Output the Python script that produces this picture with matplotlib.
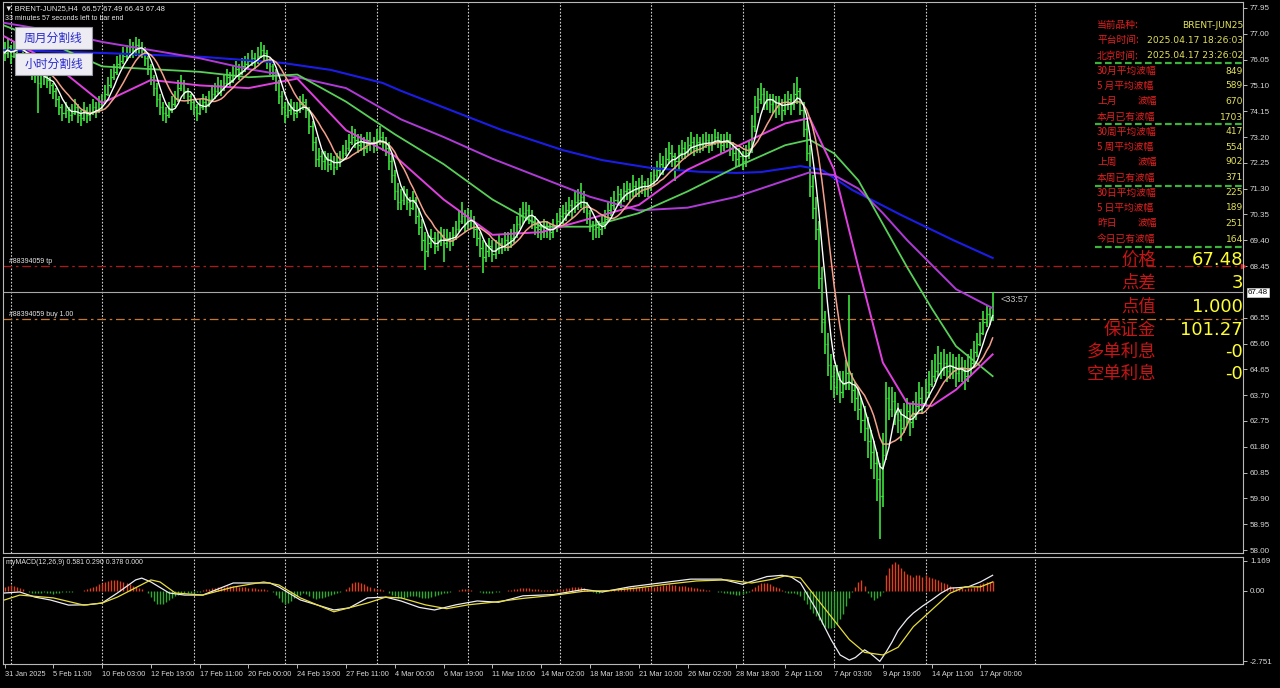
import matplotlib
matplotlib.use('Agg')
import matplotlib.pyplot as plt
import matplotlib.transforms as mtrans
from matplotlib.patches import Rectangle
import numpy as np
import pandas as pd

W, H = 1280, 688
CJK = ['Noto Sans CJK SC', 'DejaVu Sans']
plt.rcParams['font.family'] = ['Liberation Sans', 'DejaVu Sans']

# BRENT-JUN25 H4 bars, 31 Jan .. 17 Apr 2025
first_open = 76.4
close = [
    76.3, 76.5, 76.2, 76.4, 76.6, 76.9, 76.0, 75.8, 75.9, 75.6,
    75.5, 75.2, 75.5, 75.4, 75.3, 75.1, 74.9, 74.6, 74.3, 74.1,
    74.2, 74.0, 74.1, 74.3, 74.0, 73.9, 74.2, 74.0, 74.1, 74.3,
    74.2, 74.4, 74.5, 74.8, 75.1, 75.4, 75.6, 75.9, 76.0, 76.2,
    76.3, 76.5, 76.4, 76.6, 76.5, 76.4, 76.1, 75.8, 75.4, 75.0,
    74.6, 74.3, 74.1, 74.0, 74.2, 74.4, 74.6, 75.0, 75.2, 74.9,
    74.7, 74.5, 74.3, 74.1, 74.3, 74.5, 74.4, 74.6, 74.8, 74.9,
    75.1, 75.0, 75.2, 75.4, 75.3, 75.5, 75.7, 75.6, 75.8, 75.9,
    76.0, 76.1, 76.0, 76.2, 76.4, 76.3, 76.0, 75.8, 75.6, 75.2,
    74.7, 74.3, 74.0, 74.2, 74.3, 74.1, 74.2, 74.4, 74.5, 74.2,
    73.6, 73.0, 72.4, 72.5, 72.3, 72.4, 72.2, 72.3, 72.1, 72.3,
    72.4, 72.6, 72.8, 73.0, 73.2, 73.1, 72.9, 73.0, 72.8, 73.1,
    73.0, 72.9, 73.1, 73.2, 73.0, 72.8, 72.3, 71.8, 71.2, 70.8,
    70.9, 71.1, 70.8, 70.6, 70.9, 70.3, 69.9, 69.4, 69.0, 69.3,
    69.5, 69.2, 69.4, 69.6, 69.3, 69.5, 69.4, 69.6, 69.8, 70.1,
    70.3, 70.0, 70.2, 70.1, 69.8, 69.5, 69.1, 68.8, 69.0, 69.2,
    68.9, 69.1, 69.3, 69.2, 69.4, 69.3, 69.5, 69.7, 70.0, 70.3,
    70.4, 70.5, 70.3, 70.1, 69.9, 69.8, 69.7, 69.9, 69.8, 69.7,
    69.9, 70.1, 70.3, 70.4, 70.5, 70.7, 70.6, 70.8, 70.9, 71.0,
    70.7, 70.4, 70.0, 69.8, 69.9, 69.8, 70.0, 70.2, 70.5, 70.7,
    70.9, 71.1, 71.0, 71.2, 71.3, 71.2, 71.4, 71.3, 71.4, 71.5,
    71.3, 71.4, 71.6, 71.8, 72.0, 72.2, 72.1, 72.4, 72.6, 72.5,
    72.3, 72.6, 72.8, 72.7, 72.9, 73.0, 72.8, 73.0, 72.9, 73.0,
    73.1, 72.9, 73.0, 73.2, 73.1, 72.9, 73.0, 73.1, 72.8, 72.6,
    72.4, 72.5, 72.3, 72.6, 72.8, 73.6, 74.3, 74.6, 74.8, 74.5,
    74.6, 74.4, 74.5, 74.3, 74.4, 74.2, 74.5, 74.6, 74.4, 74.8,
    74.9, 74.2, 73.5, 72.6, 71.4, 70.6, 69.8, 68.0, 66.4, 65.6,
    64.8, 64.4, 64.0, 64.3, 63.8, 64.1, 64.5, 64.2, 63.9, 63.6,
    63.2, 62.8, 62.5, 62.0, 61.6, 61.2, 60.6, 60.0, 61.5, 63.6,
    63.2, 63.5, 63.0, 62.8, 62.5, 62.9, 63.1, 62.7, 63.0, 63.3,
    63.6, 63.4, 63.8, 64.1, 64.4, 64.6, 64.9, 64.7, 64.9, 64.6,
    64.8, 64.7, 64.5, 64.7, 64.6, 64.4, 64.7, 64.9, 65.3, 65.6,
    66.0, 66.4, 66.7, 66.57, 67.48,
]
high = [
    76.7, 76.8, 76.6, 76.7, 76.9, 77.1, 77.0, 76.2, 76.1, 76.0,
    75.8, 75.6, 75.7, 75.7, 75.6, 75.4, 75.2, 75.0, 74.7, 74.4,
    74.5, 74.3, 74.4, 74.6, 74.4, 74.2, 74.5, 74.3, 74.4, 74.6,
    74.5, 74.7, 74.8, 75.1, 75.4, 75.7, 75.9, 76.2, 76.3, 76.5,
    76.6, 76.8, 76.7, 76.9, 76.8, 76.7, 76.5, 76.2, 75.9, 75.5,
    75.2, 74.8, 74.5, 74.3, 74.5, 74.7, 74.9, 75.3, 75.5, 75.3,
    75.0, 74.8, 74.6, 74.4, 74.6, 74.8, 74.7, 74.9, 75.1, 75.2,
    75.4, 75.3, 75.5, 75.7, 75.6, 75.8, 76.0, 75.9, 76.1, 76.2,
    76.3, 76.4, 76.3, 76.5, 76.7, 76.6, 76.4, 76.1, 75.9, 75.7,
    75.3, 74.9, 74.5, 74.5, 74.6, 74.5, 74.5, 74.7, 74.8, 74.6,
    74.3, 73.8, 73.2, 72.8, 72.7, 72.7, 72.6, 72.6, 72.5, 72.6,
    72.7, 72.9, 73.1, 73.3, 73.6, 73.5, 73.3, 73.3, 73.2, 73.4,
    73.4, 73.2, 73.5, 73.6, 73.4, 73.2, 73.0, 72.6, 72.0, 71.5,
    71.3, 71.4, 71.3, 71.0, 71.2, 71.0, 70.6, 70.2, 69.7, 69.6,
    69.8, 69.7, 69.7, 69.9, 69.8, 69.8, 69.7, 69.9, 70.1, 70.5,
    70.8, 70.5, 70.6, 70.5, 70.3, 70.0, 69.7, 69.4, 69.3, 69.5,
    69.4, 69.4, 69.6, 69.5, 69.7, 69.7, 69.8, 70.0, 70.3, 70.6,
    70.8, 70.8, 70.7, 70.5, 70.3, 70.1, 70.0, 70.2, 70.1, 70.0,
    70.2, 70.4, 70.6, 70.7, 70.8, 71.0, 70.9, 71.2, 71.3, 71.5,
    71.2, 70.8, 70.5, 70.1, 70.2, 70.1, 70.3, 70.5, 70.8, 71.0,
    71.2, 71.4, 71.3, 71.5, 71.6, 71.5, 71.8, 71.6, 71.7, 71.8,
    71.6, 71.7, 71.9, 72.1, 72.3, 72.6, 72.5, 72.8, 73.0, 72.9,
    72.6, 72.9, 73.1, 73.0, 73.2, 73.4, 73.2, 73.3, 73.2, 73.3,
    73.4, 73.3, 73.3, 73.5, 73.4, 73.3, 73.3, 73.4, 73.3, 73.0,
    72.8, 72.8, 72.7, 72.9, 73.1, 74.0, 74.7, 75.0, 75.2, 75.0,
    74.9, 74.8, 74.8, 74.7, 74.7, 74.6, 74.8, 74.9, 74.8, 75.2,
    75.4, 75.0, 74.5, 73.8, 72.9, 71.8, 71.0, 70.1, 68.4, 66.8,
    66.0, 65.2, 64.8, 64.8, 64.6, 64.6, 65.0, 67.4, 64.5, 64.2,
    64.0, 63.6, 63.3, 62.9, 62.4, 62.0, 61.6, 61.2, 62.3, 64.2,
    64.0, 64.0, 63.8, 63.4, 63.2, 63.4, 63.6, 63.4, 63.5, 63.8,
    64.2, 64.0, 64.3, 64.6, 65.0, 65.2, 65.5, 65.3, 65.4, 65.2,
    65.3, 65.2, 65.1, 65.2, 65.1, 65.0, 65.2, 65.4, 65.7, 66.0,
    66.4, 66.8, 67.0, 66.9, 67.49,
]
low = [
    76.0, 76.1, 75.9, 76.1, 76.3, 76.4, 75.8, 75.5, 75.6, 75.3,
    75.2, 74.1, 75.0, 75.1, 75.0, 74.8, 74.6, 74.3, 74.0, 73.8,
    73.9, 73.7, 73.8, 74.0, 73.7, 73.6, 73.8, 73.7, 73.8, 74.0,
    73.9, 74.1, 74.2, 74.4, 74.7, 75.0, 75.3, 75.5, 75.7, 75.9,
    76.0, 76.1, 76.1, 76.2, 76.2, 76.1, 75.8, 75.5, 75.1, 74.7,
    74.3, 74.0, 73.8, 73.7, 73.9, 74.1, 74.3, 74.5, 74.9, 74.6,
    74.4, 74.2, 74.0, 73.8, 74.0, 74.2, 74.1, 74.3, 74.5, 74.6,
    74.8, 74.7, 74.9, 75.1, 75.0, 75.2, 75.4, 75.3, 75.5, 75.6,
    75.7, 75.8, 75.7, 75.9, 76.1, 76.0, 75.7, 75.5, 75.3, 74.9,
    74.4, 74.0, 73.7, 73.9, 74.0, 73.8, 73.9, 74.1, 74.2, 73.9,
    73.3, 72.7, 72.1, 72.1, 72.0, 72.0, 71.9, 72.0, 71.8, 72.0,
    72.1, 72.3, 72.5, 72.7, 72.9, 72.8, 72.6, 72.7, 72.5, 72.6,
    72.7, 72.6, 72.7, 72.9, 72.7, 72.5, 72.0, 71.5, 70.9, 70.5,
    70.5, 70.7, 70.5, 70.3, 70.5, 70.0, 69.6, 69.0, 68.3, 68.8,
    69.1, 68.9, 69.0, 69.2, 68.6, 69.1, 69.0, 69.2, 69.4, 69.7,
    70.0, 69.7, 69.8, 69.8, 69.5, 69.2, 68.8, 68.2, 68.6, 68.8,
    68.6, 68.7, 68.9, 68.9, 69.0, 69.0, 69.1, 69.3, 69.5, 69.8,
    70.0, 70.1, 70.0, 69.8, 69.6, 69.5, 69.4, 69.5, 69.5, 69.4,
    69.5, 69.7, 69.9, 70.0, 70.1, 70.3, 70.2, 70.4, 70.5, 70.6,
    70.4, 70.0, 69.7, 69.4, 69.5, 69.5, 69.6, 69.8, 70.1, 70.3,
    70.5, 70.7, 70.6, 70.8, 70.9, 70.8, 71.0, 71.0, 71.0, 71.1,
    71.0, 71.0, 71.2, 71.4, 71.6, 71.8, 71.8, 72.0, 72.2, 72.1,
    71.6, 72.0, 72.4, 72.4, 72.5, 72.6, 72.5, 72.6, 72.6, 72.7,
    72.8, 72.6, 72.7, 72.9, 72.8, 72.6, 72.7, 72.8, 72.5, 72.3,
    72.1, 72.1, 72.0, 72.1, 72.4, 72.6, 73.4, 74.1, 74.4, 74.2,
    74.2, 74.1, 74.1, 73.9, 74.0, 73.8, 74.0, 74.2, 74.0, 74.2,
    74.4, 74.0, 73.2, 72.3, 71.0, 70.2, 69.4, 67.6, 66.0, 65.2,
    64.4, 63.9, 63.6, 63.7, 63.4, 63.6, 63.9, 63.9, 63.4, 63.1,
    62.8, 62.3, 62.0, 61.4, 61.0, 60.6, 59.8, 58.4, 59.6, 61.3,
    62.8, 62.9, 62.6, 62.3, 62.0, 62.3, 62.6, 62.2, 62.5, 62.8,
    63.1, 63.0, 63.3, 63.6, 64.0, 64.2, 64.4, 64.3, 64.4, 64.2,
    64.3, 64.3, 64.0, 64.2, 64.2, 63.9, 64.2, 64.4, 64.7, 65.1,
    65.5, 65.9, 66.2, 66.3, 66.43,
]

# slower moving averages at selected bars
ma25_bar = [0, 16, 32, 48, 64, 80, 96, 112, 128, 144, 160, 176, 192, 208, 224, 240, 256, 264, 272, 280, 288, 296, 304, 312, 324]
ma25_val = [76.9, 75.9, 74.45, 75.3, 75.1, 75.0, 75.35, 73.45, 72.5, 70.9, 69.6, 69.7, 70.2, 70.7, 72.0, 72.85, 73.7, 73.9, 72.0, 68.4, 64.9, 63.4, 63.3, 63.9, 65.2]
ma50_bar = [0, 16, 32, 48, 64, 80, 96, 112, 128, 144, 160, 176, 192, 208, 224, 240, 256, 264, 272, 280, 288, 296, 304, 312, 324]
ma50_val = [77.3, 76.6, 75.8, 75.7, 75.6, 75.4, 75.5, 74.5, 73.3, 72.2, 70.9, 69.9, 69.9, 70.4, 71.2, 72.1, 72.9, 73.1, 72.6, 71.6, 70.0, 68.4, 66.9, 65.5, 64.4]
ma90_bar = [0, 16, 32, 48, 64, 80, 96, 112, 130, 144, 160, 176, 192, 208, 224, 240, 256, 264, 272, 280, 288, 296, 304, 312, 324]
ma90_val = [77.4, 77.1, 76.7, 76.4, 76.1, 75.7, 75.4, 75.0, 73.85, 73.2, 72.4, 71.7, 71.0, 70.5, 70.6, 71.0, 71.6, 71.9, 71.8, 71.3, 70.4, 69.4, 68.5, 67.6, 66.9]
ma200_bar = [0, 33, 65, 91, 107, 124, 130, 152, 163, 183, 196, 212, 228, 240, 248, 261, 268, 278, 294, 311, 324]
ma200_val = [76.40, 76.29, 76.15, 75.93, 75.67, 75.19, 74.9, 73.94, 73.46, 72.72, 72.35, 72.06, 71.92, 71.88, 71.91, 72.13, 71.99, 71.25, 70.33, 69.41, 68.75]

# myMACD(12,26,9)
macd_bar = [0, 5, 10, 15, 21, 27, 32, 37, 43, 45, 48, 54, 59, 65, 75, 87, 90, 97, 108, 113, 119, 125, 130, 136, 141, 148, 155, 162, 170, 180, 190, 196, 205, 215, 225, 235, 242, 250, 255, 258, 261, 264, 266, 268, 271, 274, 277, 279, 281, 282, 284, 286, 287, 289, 291, 293, 296, 298, 301, 304, 307, 310, 313, 316, 320, 324]
macd_val = [-0.09, -0.05, -0.25, -0.36, -0.56, -0.55, -0.48, -0.09, 0.42, 0.49, 0.34, -0.09, -0.17, -0.17, 0.3, 0.3, 0.14, -0.36, -0.75, -0.67, -0.28, -0.25, -0.4, -0.65, -0.75, -0.55, -0.4, -0.45, -0.2, -0.15, 0.05, -0.05, 0.15, 0.3, 0.45, 0.45, 0.25, 0.55, 0.6, 0.53, 0.3, -0.3, -0.7, -1.2, -1.9, -2.5, -2.7, -2.6, -2.4, -2.3, -2.45, -2.65, -2.75, -2.4, -2.0, -1.55, -1.1, -0.87, -0.6, -0.36, -0.1, 0.1, 0.12, 0.15, 0.34, 0.6]
signal_bar = [0, 5, 16, 26, 32, 37, 48, 51, 56, 65, 75, 85, 90, 97, 108, 119, 125, 130, 138, 145, 152, 160, 170, 180, 190, 198, 207, 217, 227, 237, 245, 252, 256, 261, 265, 271, 277, 282, 288, 293, 298, 304, 310, 315, 320, 324]
signal_val = [-0.36, -0.17, -0.28, -0.56, -0.48, -0.25, 0.42, 0.34, -0.09, -0.17, 0.14, 0.34, 0.22, -0.28, -0.82, -0.48, -0.25, -0.28, -0.55, -0.7, -0.55, -0.45, -0.3, -0.18, -0.02, 0.0, 0.1, 0.25, 0.38, 0.42, 0.3, 0.45, 0.58, 0.5, -0.1, -1.0, -1.9, -2.4, -2.5, -2.2, -1.4, -0.75, -0.1, 0.15, 0.15, 0.34]
hist = [
    0.15, 0.2, 0.22, 0.2, 0.15, 0.1, 0.05, 0.0, -0.05, -0.08,
    -0.1, -0.1, -0.08, -0.06, -0.08, -0.1, -0.12, -0.1, -0.08, -0.06,
    -0.05, -0.04, -0.05, -0.03, -0.02, 0.0, 0.02, 0.05, 0.1, 0.15,
    0.2, 0.25, 0.3, 0.35, 0.38, 0.4, 0.42, 0.4, 0.38, 0.35,
    0.3, 0.25, 0.2, 0.15, 0.1, 0.05, 0.0, -0.1, -0.25, -0.4,
    -0.5, -0.52, -0.5, -0.45, -0.38, -0.3, -0.22, -0.15, -0.1, -0.08,
    -0.1, -0.1, -0.08, -0.06, -0.04, 0.02, 0.05, 0.08, 0.1, 0.12,
    0.14, 0.15, 0.16, 0.18, 0.2, 0.2, 0.18, 0.16, 0.15, 0.14,
    0.12, 0.1, 0.1, 0.08, 0.06, 0.05, 0.03, 0.0, -0.05, -0.15,
    -0.3, -0.45, -0.5, -0.48, -0.4, -0.3, -0.22, -0.15, -0.1, -0.12,
    -0.2, -0.28, -0.32, -0.3, -0.28, -0.25, -0.22, -0.18, -0.14, -0.1,
    -0.05, 0.0, 0.05, 0.15, 0.3, 0.35, 0.33, 0.3, 0.25, 0.2,
    0.15, 0.1, 0.08, 0.05, 0.02, -0.02, -0.08, -0.15, -0.22, -0.28,
    -0.3, -0.28, -0.25, -0.22, -0.2, -0.22, -0.25, -0.28, -0.3, -0.28,
    -0.24, -0.2, -0.16, -0.12, -0.1, -0.08, -0.05, -0.02, 0.0, 0.02,
    0.05, 0.06, 0.05, 0.03, 0.0, -0.03, -0.06, -0.08, -0.1, -0.1,
    -0.08, -0.06, -0.04, -0.02, 0.0, 0.02, 0.04, 0.06, 0.08, 0.1,
    0.12, 0.12, 0.1, 0.08, 0.06, 0.05, 0.04, 0.04, 0.03, 0.03,
    0.04, 0.05, 0.07, 0.08, 0.1, 0.12, 0.13, 0.14, 0.14, 0.13,
    0.1, 0.06, 0.0, -0.05, -0.08, -0.08, -0.06, -0.03, 0.0, 0.04,
    0.07, 0.1, 0.12, 0.13, 0.14, 0.14, 0.15, 0.15, 0.14, 0.14,
    0.13, 0.13, 0.14, 0.16, 0.18, 0.2, 0.22, 0.24, 0.25, 0.24,
    0.22, 0.2, 0.2, 0.18, 0.16, 0.14, 0.12, 0.1, 0.08, 0.06,
    0.04, 0.02, 0.0, -0.02, -0.04, -0.06, -0.08, -0.1, -0.12, -0.14,
    -0.15, -0.15, -0.13, -0.1, -0.05, 0.05, 0.15, 0.22, 0.28, 0.3,
    0.28, 0.25, 0.2, 0.15, 0.1, 0.04, -0.05, -0.08, -0.1, -0.1,
    -0.12, -0.2, -0.35, -0.5, -0.7, -0.85, -1.0, -1.15, -1.3, -1.4,
    -1.45, -1.45, -1.4, -1.3, -1.1, -0.9, -0.6, -0.3, -0.05, 0.15,
    0.35, 0.4, 0.2, -0.1, -0.25, -0.35, -0.3, -0.2, -0.05, 0.6,
    0.9, 1.05, 1.1, 1.05, 0.9, 0.75, 0.65, 0.6, 0.55, 0.6,
    0.6, 0.55, 0.6, 0.55, 0.5, 0.45, 0.4, 0.35, 0.3, 0.25,
    0.2, 0.15, 0.12, 0.1, 0.1, 0.08, 0.1, 0.12, 0.15, 0.2,
    0.25, 0.3, 0.35, 0.35, 0.38,
]

date_labels = ['31 Jan 2025', '5 Feb 11:00', '10 Feb 03:00', '12 Feb 19:00', '17 Feb 11:00',
               '20 Feb 00:00', '24 Feb 19:00', '27 Feb 11:00', '4 Mar 00:00', '6 Mar 19:00',
               '11 Mar 10:00', '14 Mar 02:00', '18 Mar 18:00', '21 Mar 10:00', '26 Mar 02:00',
               '28 Mar 18:00', '2 Apr 11:00', '7 Apr 03:00', '9 Apr 19:00', '14 Apr 11:00',
               '17 Apr 00:00']
label_every = 16
week_start_bars = [2, 32, 62, 92, 122, 152, 182, 212, 242, 272, 302, 338]

price_ticks = [77.95, 77.00, 76.05, 75.10, 74.15, 73.20, 72.25, 71.30, 70.35, 69.40, 68.45,
               66.55, 65.60, 64.65, 63.70, 62.75, 61.80, 60.85, 59.90, 58.95, 58.00]
macd_ticks = [1.169, 0.0, -2.751]
macd_tick_labels = ['1.169', '0.00', '-2.751']

bid = 67.48
tp_price = 68.45
buy_price = 66.50

info_labels = ['当前品种:', '平台时间:', '北京时间:']
info_values = ['BRENT-JUN25', '2025.04.17 18:26:03', '2025.04.17 23:26:02']
range_labels = ['30月平均波幅', '5 月平均波幅', '上月|波幅', '本月已有波幅',
                '30周平均波幅', '5 周平均波幅', '上周|波幅', '本周已有波幅',
                '30日平均波幅', '5 日平均波幅', '昨日|波幅', '今日已有波幅']
range_values = [849, 589, 670, 1703, 417, 554, 902, 371, 225, 189, 251, 164]
big_labels = ['价格', '点差', '点值', '保证金', '多单利息', '空单利息']
big_values = ['67.48', '3', '1.000', '101.27', '-0', '-0']

n = len(close)
assert len(high) == n and len(low) == n and len(hist) == n

def fx(x):
    return x / W

def fy(y):
    return 1 - y / H

fig = plt.figure(figsize=(W / 100, H / 100), dpi=100, facecolor='black')
ax = fig.add_axes([fx(3), fy(553), 1240 / W, 551 / H], facecolor='black')
mx = fig.add_axes([fx(3), fy(664), 1240 / W, 107 / H], facecolor='black')

for a in (ax, mx):
    a.set_xlim(-0.5, 406.1)
    for s in a.spines.values():
        s.set_color('#b8b8b8')
        s.set_linewidth(0.8)
    a.yaxis.tick_right()
    a.tick_params(axis='y', colors='#d8d8d8', labelsize=5.8, length=3, width=0.6, pad=2)
    for b in week_start_bars:
        a.axvline(b, color='#cfcfcf', ls=(0, (1.5, 1.5)), lw=0.8, zorder=1)

ax.set_ylim(57.89, 78.17)
ax.set_yticks(price_ticks)
ax.set_yticklabels([f'{v:.2f}' for v in price_ticks])
ax.set_xticks([])

# order / price lines
ax.axhline(tp_price, color='#b01818', ls=(0, (7, 3, 2, 3)), lw=0.9, zorder=2)
ax.axhline(buy_price, color='#c8782c', ls=(0, (7, 3, 2, 3)), lw=0.9, zorder=2)
ax.axhline(bid, color='#a8a8a8', lw=0.8, zorder=2)
ax.annotate('#88394059 tp', xy=(0, tp_price), xycoords=('axes fraction', 'data'),
            xytext=(4, 1), textcoords='offset points', color='#e8e8e8', fontsize=5, va='bottom')
ax.annotate('#88394059 buy 1.00', xy=(0, buy_price), xycoords=('axes fraction', 'data'),
            xytext=(4, 1), textcoords='offset points', color='#e8e8e8', fontsize=5, va='bottom')
bt = mtrans.blended_transform_factory(ax.transAxes, ax.transData)
ax.plot([1.0], [tp_price], marker='>', ms=3, color='#e02020', transform=bt, clip_on=False)
ax.text(1.004, bid, f'{bid:.2f}', transform=bt, fontsize=5.8, color='black', va='center',
        ha='left', bbox=dict(facecolor='white', edgecolor='#d0d0d0', pad=0.8, lw=0.5))

# OHLC bars
x = np.arange(n)
opens = np.r_[first_open, close[:-1]]
bar_col = '#3de33d'
ax.vlines(x, low, high, colors=bar_col, lw=1.2, zorder=3)
ax.hlines(opens, x - 0.45, x, colors=bar_col, lw=0.9, zorder=3)
ax.hlines(close, x, x + 0.45, colors=bar_col, lw=0.9, zorder=3)

# moving averages
cs = pd.Series(close)
ax.plot(ma200_bar, ma200_val, color='#1c1ce8', lw=1.5, zorder=4)
ax.plot(ma90_bar, ma90_val, color='#b03ad8', lw=1.4, zorder=4)
ax.plot(ma50_bar, ma50_val, color='#58d058', lw=1.3, zorder=4)
ax.plot(ma25_bar, ma25_val, color='#e040e0', lw=1.4, zorder=4)
ax.plot(x, cs.rolling(10, min_periods=1).mean(), color='#f5a08a', lw=1.1, zorder=5)
ax.plot(x, cs.rolling(5, min_periods=1).mean(), color='white', lw=1.0, zorder=5)

ax.annotate('<33:57', xy=(n - 1, close[-1]), xytext=(6, -5), textcoords='offset points',
            color='#c8c8c8', fontsize=6.5, va='center', ha='left')

# MACD panel
mx.set_ylim(-2.852, 1.311)
mx.set_yticks(macd_ticks)
mx.set_yticklabels(macd_tick_labels)
hcol = ['#e0401c' if v > 0 else '#2eaa2e' for v in hist]
mx.vlines(x, 0, hist, colors=hcol, lw=1.0, zorder=2)
mx.plot(macd_bar, macd_val, color='#ececf4', lw=0.9, zorder=3)
mx.plot(signal_bar, signal_val, color='#e6dc3c', lw=0.9, zorder=3)
mx.set_xticks(np.arange(len(date_labels)) * label_every)
mx.set_xticklabels(date_labels, ha='left')
mx.tick_params(axis='x', colors='#d8d8d8', labelsize=5.3, length=3, width=0.6, pad=2)
fig.text(fx(6), fy(562), 'myMACD(12,26,9) 0.581 0.290 0.378 0.000', color='#e0e0e0',
         fontsize=5, va='center')

# header texts and buttons
fig.text(fx(5), fy(9), '▼ BRENT-JUN25,H4  66.57 67.49 66.43 67.48', color='#e8e8e8',
         fontsize=5.5, va='center')
fig.text(fx(5), fy(19), '33 minutes 57 seconds left to bar end', color='#e8e8e8',
         fontsize=5, va='center')
for label, y0 in (('周月分割线', 27), ('小时分割线', 53)):
    fig.add_artist(Rectangle((fx(15), fy(y0 + 22)), 77 / W, 22 / H, transform=fig.transFigure,
                             facecolor='#ececf2', edgecolor='#9a9aa6', lw=0.8))
    fig.text(fx(53.5), fy(y0 + 11), label, color='#2a2ad0', fontsize=8.5, family=CJK,
             ha='center', va='center')

# info panel
red_s, yel_s = '#e42020', '#e2e25a'
for i, (lab, val) in enumerate(zip(info_labels, info_values)):
    y = 25 + i * 15.5
    fig.text(fx(1097), fy(y), lab, color=red_s, fontsize=7, family=CJK, va='center')
    fig.text(fx(1243), fy(y), val, color=yel_s, fontsize=6.6, family='DejaVu Sans',
             va='center', ha='right')
row_y = [71, 86, 101, 117, 132, 147, 162, 178, 193, 208, 223, 239]
for lab, val, y in zip(range_labels, range_values, row_y):
    if '|' in lab:
        a, b = lab.split('|')
        fig.text(fx(1097), fy(y), a, color=red_s, fontsize=7, family=CJK, va='center')
        fig.text(fx(1157), fy(y), b, color=red_s, fontsize=7, family=CJK, va='center', ha='right')
    else:
        fig.text(fx(1097), fy(y), lab, color=red_s, fontsize=7, family=CJK, va='center')
    fig.text(fx(1243), fy(y), str(val), color=yel_s, fontsize=6.6, family='DejaVu Sans',
             va='center', ha='right')
for y in (63, 124, 186, 247):
    fig.add_artist(plt.Line2D([fx(1095), fx(1243)], [fy(y), fy(y)], transform=fig.transFigure,
                              color='#3cb43c', lw=1.6, ls=(0, (3, 1.5))))
big_y = [260, 283, 307, 330, 352, 374]
for lab, val, y in zip(big_labels, big_values, big_y):
    fig.text(fx(1156), fy(y), lab, color='#c81414', fontsize=12.5, family=CJK,
             va='center', ha='right')
    fig.text(fx(1243), fy(y), val, color='#ffff30', fontsize=13, family='DejaVu Sans',
             va='center', ha='right')

fig.savefig('out.png', dpi=100, facecolor='black')
